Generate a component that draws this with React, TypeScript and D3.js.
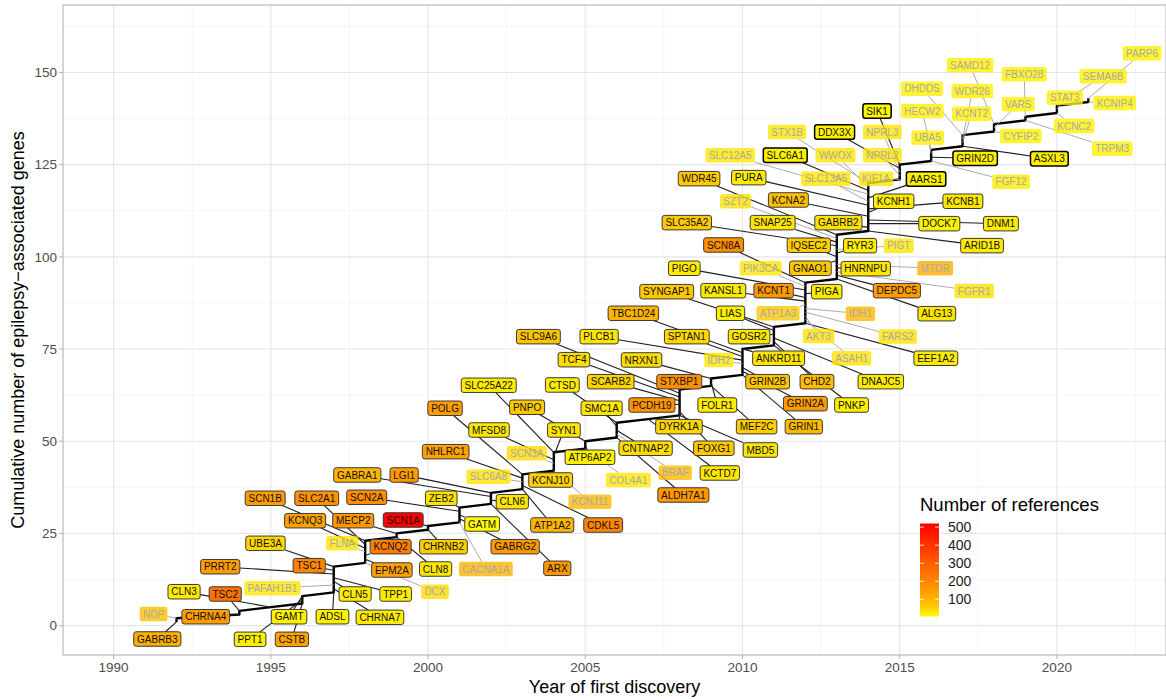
import { useMemo } from "react";
import * as d3 from "d3";

const W = 1166;
const H = 699;
const PANEL = { left: 63, top: 5, right: 1166, bottom: 655 };
const FONT = "'Liberation Sans', Arial, Helvetica, sans-serif";

// axis limits (ggplot expanded range)
const X_LIMITS = [1988.39, 2023.47];
const Y_LIMITS = [-7.97, 168.3];
const X_BREAKS = [1990, 1995, 2000, 2005, 2010, 2015, 2020];
const X_MINOR = [1992.5, 1997.5, 2002.5, 2007.5, 2012.5, 2017.5, 2022.5];
const Y_BREAKS = [0, 25, 50, 75, 100, 125, 150];
const Y_MINOR = [12.5, 37.5, 62.5, 87.5, 112.5, 137.5, 162.5];
const LEGEND_BREAKS = [100, 200, 300, 400, 500];
const REF_RANGE = [5, 520];

// genes in order of discovery; cumulative count = position in the list
const genes = [
  "GABRB3", "NDP",
  "CHRNA4", "TSC2",
  "CLN3",
  "CSTB", "PPT1", "GAMT",
  "ADSL", "CHRNA7", "PAFAH1B1", "CLN5", "TPP1", "PRRT2", "TSC1", "UBE3A",
  "DCX", "EPM2A", "KCNQ2", "FLNA", "KCNQ3", "SLC2A1", "SCN1B",
  "CLN8", "MECP2",
  "CHRNB2", "SCN1A",
  "CACNA1A", "GABRG2", "GATM", "SCN2A", "ZEB2",
  "ARX", "CLN6", "GABRA1", "LGI1",
  "ATP1A2", "CDKL5", "SLC6A8", "NHLRC1", "POLG",
  "KCNJ11", "KCNJ10", "SCN3A", "MFSD8", "SYN1", "SLC25A22",
  "COL4A1", "ATP6AP2", "PNPO",
  "ALDH7A1", "BRAF", "CNTNAP2", "SMC1A", "CTSD",
  "KCTD7",
  "MBD5", "FOXG1", "DYRK1A", "PCDH19", "SCARB2", "TCF4", "SLC9A6", "STXBP1",
  "MEF2C", "FOLR1", "NRXN1",
  "GRIN1", "GRIN2A", "GRIN2B", "IDH2", "PLCB1", "SPTAN1", "TBC1D24", "ANKRD11",
  "PNKP", "CHD2", "DNAJC5", "GOSR2", "LIAS", "SYNGAP1",
  "EEF1A2", "ASAH1", "AKT3", "FARS2", "IDH1", "ATP1A3", "KANSL1", "KCNT1", "PIGA", "PIGO", "PIK3CA", "SCN8A",
  "ALG13", "DEPDC5", "FGFR1", "HNRNPU", "MTOR", "GNAO1", "IQSEC2", "RYR3", "PIGT", "SLC35A2", "SNAP25", "SZT2", "WDR45",
  "ARID1B", "GABRB2", "DOCK7", "DNM1", "KCNA2", "KCNH1", "KCNB1", "PURA", "SLC13A5", "AARS1", "SLC12A5", "SLC6A1", "WWOX", "STX1B",
  "KIF1A", "NPRL2", "NPRL3", "DDX3X", "SIK1",
  "FGF12", "GRIN2D", "UBA5", "HECW2",
  "ASXL3", "KCNT2", "WDR26", "DHDDS",
  "CYFIP2", "VARS", "SAMD12",
  "TRPM3", "FBXO28",
  "KCNC2", "STAT3", "SEMA6B",
  "KCNIP4", "PARP6",
];

const years = [
  1992, 1992,
  1994, 1994,
  1995,
  1996, 1996, 1996,
  1997, 1997, 1997, 1997, 1997, 1997, 1997, 1997,
  1998, 1998, 1998, 1998, 1998, 1998, 1998,
  1999, 1999,
  2000, 2000,
  2001, 2001, 2001, 2001, 2001,
  2002, 2002, 2002, 2002,
  2003, 2003, 2003, 2003, 2003,
  2004, 2004, 2004, 2004, 2004, 2004,
  2005, 2005, 2005,
  2006, 2006, 2006, 2006, 2006,
  2007,
  2008, 2008, 2008, 2008, 2008, 2008, 2008, 2008,
  2009, 2009, 2009,
  2010, 2010, 2010, 2010, 2010, 2010, 2010, 2010,
  2011, 2011, 2011, 2011, 2011, 2011,
  2012, 2012, 2012, 2012, 2012, 2012, 2012, 2012, 2012, 2012, 2012, 2012,
  2013, 2013, 2013, 2013, 2013, 2013, 2013, 2013, 2013, 2013, 2013, 2013, 2013,
  2014, 2014, 2014, 2014, 2014, 2014, 2014, 2014, 2014, 2014, 2014, 2014, 2014, 2014,
  2015, 2015, 2015, 2015, 2015,
  2016, 2016, 2016, 2016,
  2017, 2017, 2017, 2017,
  2018, 2018, 2018,
  2019, 2019,
  2020, 2020, 2020,
  2021, 2021,
];

// number of references per gene
const refs = [
  110, 80,
  150, 250,
  25,
  140, 20, 20,
  20, 25, 30, 25, 25, 150, 200, 45,
  40, 140, 220, 35, 140, 170, 150,
  30, 160,
  55, 520,
  100, 160, 10, 180, 35,
  160, 30, 100, 150,
  100, 200, 35, 140, 150,
  90, 50, 40, 30, 30, 25,
  30, 20, 60,
  160, 90, 40, 30, 25,
  30,
  30, 60, 45, 170, 50, 40, 70, 180,
  55, 25, 40,
  90, 150, 70, 30, 30, 45, 100, 30,
  20, 85, 25, 30, 20, 60,
  25, 35, 35, 35, 90, 60, 25, 160, 25, 25, 30, 180,
  30, 150, 35, 30, 110, 60, 55, 25, 30, 60, 30, 35, 60,
  25, 35, 20, 25, 80, 25, 30, 25, 30, 20, 30, 20, 30, 30,
  30, 30, 30, 20, 15,
  25, 20, 20, 20,
  20, 20, 20, 20,
  20, 20, 20,
  20, 20,
  20, 20, 20,
  20, 20,
];

// where the repelled label sits (year, cumulative count)
const labelYear = [
  1991.39, 1991.27,
  1992.93, 1993.55,
  1992.24,
  1995.67, 1994.34, 1995.58,
  1996.96, 1998.47, 1995.05, 1997.68, 1998.97, 1993.39, 1996.22, 1994.83,
  2000.22, 1998.85, 1998.81, 1997.27, 1996.09, 1996.46, 1994.82,
  2000.24, 1997.62,
  2000.49, 1999.21,
  2001.84, 2002.77, 2001.72, 1998.05, 2000.42,
  2004.11, 2002.68, 1997.75, 1999.24,
  2003.95, 2005.57, 2001.92, 2000.56, 2000.54,
  2005.15, 2003.9, 2003.14, 2001.94, 2004.32, 2001.93,
  2006.37, 2005.15, 2003.15,
  2008.12, 2007.86, 2006.92, 2005.52, 2004.27,
  2009.28,
  2010.57, 2009.09, 2007.98, 2007.12, 2005.81, 2004.64, 2003.51, 2007.99,
  2010.45, 2009.2, 2006.79,
  2011.95, 2012.0, 2010.8, 2009.25, 2005.44, 2008.23, 2006.53, 2011.15,
  2013.47, 2012.37, 2014.4, 2010.21, 2009.62, 2007.59,
  2016.15, 2013.47, 2012.42, 2014.94, 2013.75, 2011.13, 2009.39, 2010.99, 2012.68, 2008.15, 2010.58, 2009.4,
  2016.18, 2014.91, 2017.37, 2013.92, 2016.13, 2012.16, 2012.11, 2013.74, 2014.97, 2008.23, 2010.96, 2009.78, 2008.62,
  2017.62, 2013.05, 2016.26, 2018.22, 2011.46, 2014.81, 2017.01, 2010.2, 2012.65, 2015.84, 2009.61, 2011.36, 2012.96, 2011.42,
  2014.25, 2014.45, 2014.45, 2012.93, 2014.28,
  2018.54, 2017.4, 2015.89, 2015.72,
  2019.76, 2017.29, 2017.31, 2015.71,
  2018.85, 2018.77, 2017.24,
  2021.76, 2018.96,
  2020.55, 2020.25, 2021.47,
  2021.84, 2022.71,
];

const labelCount = [
  -3.63, 3.15,
  2.41, 8.57,
  9.19,
  -3.72, -3.72, 2.41,
  2.41, 2.25, 10.12, 8.57, 8.57, 15.97, 16.25, 22.32,
  9.19, 15.08, 21.4, 22.32, 28.45, 34.53, 34.53,
  15.35, 28.45,
  21.4, 28.64,
  15.35, 21.4, 27.56, 34.8, 34.53,
  15.54, 33.6, 40.85, 40.85,
  27.28, 27.28, 40.38, 47.17, 58.94,
  33.6, 39.49, 46.73, 53.05, 53.05, 65.17,
  39.49, 45.65, 59.21,
  35.42, 41.47, 48.09, 58.94, 65.26,
  41.39,
  47.63, 48.09, 53.95, 59.83, 66.15, 72.12, 78.36, 66.15,
  53.95, 59.83, 72.04,
  53.95, 60.18, 66.15, 72.04, 78.36, 78.36, 84.7, 72.5,
  59.83, 66.15, 66.15, 78.36, 84.7, 90.56,
  72.5, 72.5, 78.55, 78.41, 84.59, 84.7, 90.83, 90.83, 90.56, 96.91, 96.91, 103.23,
  84.59, 90.83, 90.75, 96.8, 96.91, 96.91, 103.15, 103.04, 103.04, 109.28, 109.28, 115.08, 121.21,
  103.04, 109.28, 109.0, 109.0, 115.43, 115.08, 115.08, 121.48, 121.21, 121.13, 127.56, 127.56, 127.56, 133.88,
  121.21, 127.56, 133.88, 133.88, 139.57,
  120.4, 126.74, 132.33, 139.57,
  126.63, 138.84, 145.0, 145.62,
  132.79, 141.39, 151.97,
  129.35, 149.53,
  135.5, 143.18, 148.98,
  141.74, 155.22,
];

// genes drawn faded (grey text, no outline) and with a heavier outline
const fadedGenes = [
  "NDP", "PAFAH1B1", "DCX", "FLNA", "CACNA1A", "SLC6A8", "SCN3A", "KCNJ11", "COL4A1", "BRAF",
  "IDH2", "AKT3", "ASAH1", "FARS2", "IDH1", "ATP1A3", "PIK3CA", "FGFR1", "MTOR", "PIGT", "SZT2",
  "SLC13A5", "SLC12A5", "WWOX", "STX1B", "KIF1A", "NPRL2", "NPRL3", "UBA5", "HECW2", "DHDDS",
  "SAMD12", "WDR26", "KCNT2", "FGF12", "CYFIP2", "VARS", "FBXO28", "STAT3", "SEMA6B", "PARP6",
  "KCNIP4", "KCNC2", "TRPM3",
];
const strongGenes = ["SIK1", "DDX3X", "SLC6A1", "AARS1", "GRIN2D", "ASXL3"];

const LABEL_FONT_SIZE = 10;
const LABEL_PAD_X = 3.3;
const LABEL_H = 14.5;

function measure(text: string, size: number): number {
  const canvas = document.createElement("canvas");
  const ctx = canvas.getContext("2d");
  if (!ctx) return text.length * size * 0.6;
  ctx.font = `${size}px 'Liberation Sans', Arial, sans-serif`;
  return ctx.measureText(text).width;
}

export default function App() {
  const x = d3.scaleLinear().domain(X_LIMITS).range([PANEL.left, PANEL.right]);
  const y = d3.scaleLinear().domain(Y_LIMITS).range([PANEL.bottom, PANEL.top]);

  // yellow -> orange -> red, the way the colour bar reads
  const fill = d3
    .scaleLinear<string>()
    .domain([5, 60, 170, 520])
    .range(["#ffff00", "#ffc800", "#ff9200", "#ff0000"])
    .interpolate(d3.interpolateRgb)
    .clamp(true);

  const faded = new Set(fadedGenes);
  const strong = new Set(strongGenes);

  const path = d3
    .line<string>()
    .x((_, i) => x(years[i]))
    .y((_, i) => y(i + 1))(genes);

  const labels = useMemo(
    () =>
      genes.map((g, i) => {
        const w = measure(g, LABEL_FONT_SIZE) + 2 * LABEL_PAD_X;
        const cx = x(labelYear[i]);
        const cy = y(labelCount[i]);
        const px = x(years[i]);
        const py = y(i + 1);
        const dx = px - cx;
        const dy = py - cy;
        let seg: number[] | null = null;
        if (Math.abs(dx) > w / 2 || Math.abs(dy) > LABEL_H / 2) {
          const tx = dx === 0 ? Infinity : w / 2 / Math.abs(dx);
          const ty = dy === 0 ? Infinity : LABEL_H / 2 / Math.abs(dy);
          const t = Math.min(tx, ty);
          seg = [cx + dx * t, cy + dy * t, px, py];
        }
        return { g, w, cx, cy, seg, isFaded: faded.has(g), isStrong: strong.has(g), color: fill(refs[i]) };
      }),
    []
  );

  // legend colour bar
  const legend = { x: 920, top: 523.5, bottom: 616.5, w: 19 };
  const legendY = d3.scaleLinear().domain(REF_RANGE).range([legend.bottom, legend.top]);
  const stops = d3.range(0, 1.0001, 0.05).map((t) => ({
    offset: t,
    color: fill(REF_RANGE[0] + t * (REF_RANGE[1] - REF_RANGE[0])),
  }));

  return (
    <svg
      width={W}
      height={H}
      viewBox={`0 0 ${W} ${H}`}
      style={{ position: "absolute", left: 0, top: 0, background: "#fff", fontFamily: FONT }}
    >
      <defs>
        <clipPath id="panel">
          <rect x={PANEL.left} y={PANEL.top} width={PANEL.right - PANEL.left} height={PANEL.bottom - PANEL.top} />
        </clipPath>
        <linearGradient id="refbar" x1="0" y1="1" x2="0" y2="0">
          {stops.map((s, i) => (
            <stop key={i} offset={s.offset} stopColor={s.color} />
          ))}
        </linearGradient>
      </defs>

      <rect x={PANEL.left} y={PANEL.top} width={PANEL.right - PANEL.left} height={PANEL.bottom - PANEL.top} fill="#fff" />

      {/* grid */}
      <g>
        {X_MINOR.map((t) => (
          <line key={"xm" + t} x1={x(t)} x2={x(t)} y1={PANEL.top} y2={PANEL.bottom} stroke="#f0f0f0" strokeWidth={0.6} />
        ))}
        {Y_MINOR.map((t) => (
          <line key={"ym" + t} x1={PANEL.left} x2={PANEL.right} y1={y(t)} y2={y(t)} stroke="#f0f0f0" strokeWidth={0.6} />
        ))}
        {X_BREAKS.map((t) => (
          <line key={"x" + t} x1={x(t)} x2={x(t)} y1={PANEL.top} y2={PANEL.bottom} stroke="#e6e6e6" strokeWidth={1.1} />
        ))}
        {Y_BREAKS.map((t) => (
          <line key={"y" + t} x1={PANEL.left} x2={PANEL.right} y1={y(t)} y2={y(t)} stroke="#e6e6e6" strokeWidth={1.1} />
        ))}
      </g>

      <g clipPath="url(#panel)">
        <path d={path ?? ""} fill="none" stroke="#000" strokeWidth={2.4} strokeLinejoin="round" />

        {labels.map((l) =>
          l.seg ? (
            <line
              key={"s" + l.g}
              x1={l.seg[0]}
              y1={l.seg[1]}
              x2={l.seg[2]}
              y2={l.seg[3]}
              stroke={l.isFaded ? "#a3a3a3" : "#1f1f1f"}
              strokeWidth={l.isFaded ? 0.9 : 1.1}
            />
          ) : null
        )}

        {labels.map((l) => (
          <g key={"l" + l.g}>
            <rect
              x={l.cx - l.w / 2}
              y={l.cy - LABEL_H / 2}
              width={l.w}
              height={LABEL_H}
              rx={2.5}
              fill={l.color}
              fillOpacity={l.isFaded ? 0.8 : 1}
              stroke={l.isFaded ? "none" : l.isStrong ? "#000" : "#3a3a3a"}
              strokeWidth={l.isStrong ? 1.5 : 1}
            />
            <text
              x={l.cx}
              y={l.cy + 3.6}
              textAnchor="middle"
              fontSize={LABEL_FONT_SIZE}
              fill={l.isFaded ? "#a8a8a8" : "#111"}
            >
              {l.g}
            </text>
          </g>
        ))}
      </g>

      <rect
        x={PANEL.left}
        y={PANEL.top}
        width={PANEL.right - PANEL.left}
        height={PANEL.bottom - PANEL.top}
        fill="none"
        stroke="#b3b3b3"
        strokeWidth={1.1}
      />

      {/* axes */}
      <g fontSize={13.5} fill="#4d4d4d">
        {X_BREAKS.map((t) => (
          <g key={"xt" + t}>
            <line x1={x(t)} x2={x(t)} y1={PANEL.bottom} y2={PANEL.bottom + 4} stroke="#b3b3b3" />
            <text x={x(t)} y={PANEL.bottom + 17} textAnchor="middle">
              {t}
            </text>
          </g>
        ))}
        {Y_BREAKS.map((t) => (
          <g key={"yt" + t}>
            <line x1={PANEL.left - 4} x2={PANEL.left} y1={y(t)} y2={y(t)} stroke="#b3b3b3" />
            <text x={PANEL.left - 6} y={y(t) + 4.8} textAnchor="end">
              {t}
            </text>
          </g>
        ))}
      </g>
      <text x={(PANEL.left + PANEL.right) / 2} y={693} textAnchor="middle" fontSize={18} fill="#000">
        Year of first discovery
      </text>
      <text
        transform={`translate(24,${(PANEL.top + PANEL.bottom) / 2}) rotate(-90)`}
        textAnchor="middle"
        fontSize={18}
        fill="#000"
      >
        Cumulative number of epilepsy−associated genes
      </text>

      {/* legend */}
      <g>
        <text x={legend.x} y={511} fontSize={18.5} fill="#000">
          Number of references
        </text>
        <rect x={legend.x} y={legend.top} width={legend.w} height={legend.bottom - legend.top} fill="url(#refbar)" />
        {LEGEND_BREAKS.map((b) => (
          <g key={"lg" + b}>
            <line x1={legend.x} x2={legend.x + 4} y1={legendY(b)} y2={legendY(b)} stroke="#fff" strokeWidth={0.8} />
            <line
              x1={legend.x + legend.w - 4}
              x2={legend.x + legend.w}
              y1={legendY(b)}
              y2={legendY(b)}
              stroke="#fff"
              strokeWidth={0.8}
            />
            <text x={legend.x + 28} y={legendY(b) + 5} fontSize={14} fill="#1a1a1a">
              {b}
            </text>
          </g>
        ))}
      </g>
    </svg>
  );
}
